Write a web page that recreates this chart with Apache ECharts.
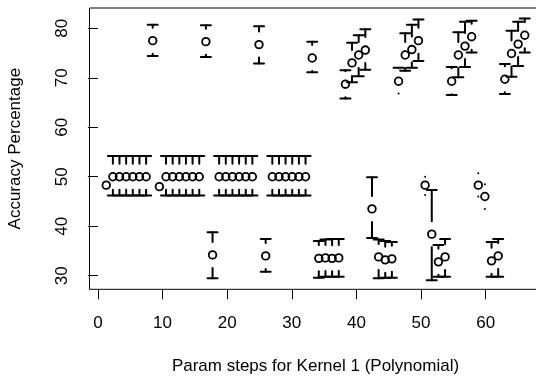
<!DOCTYPE html>
<html>
<head>
<meta charset="utf-8">
<script src="https://cdn.jsdelivr.net/npm/echarts@6/dist/echarts.min.js"></script>
<style>
  html, body { margin: 0; padding: 0; background: #fff; }
  #chart { width: 536px; height: 378px; }
</style>
</head>
<body>
<div id="chart"></div>
<script>
// param step positions
var stepX = [
  1.29, 2.32, 3.34, 4.37, 5.40, 6.43, 7.46, 8.48,
  9.51, 10.54, 11.57, 12.60, 13.62, 14.65, 15.68, 16.71,
  17.74, 18.76, 19.79, 20.82, 21.85, 22.88, 23.90, 24.93,
  25.96, 26.99, 28.02, 29.04, 30.07, 31.10, 32.13, 33.16,
  34.18, 35.21, 36.24, 37.27, 38.30, 39.32, 40.35, 41.38,
  42.41, 43.44, 44.46, 45.49, 46.52, 47.55, 48.58, 49.60,
  50.63, 51.66, 52.69, 53.72, 54.74, 55.77, 56.80, 57.83,
  58.86, 59.88, 60.91, 61.94, 62.97, 64.00, 65.02, 66.05
];
// mean accuracy
var accMean = [
  48.3, 50.0, 50.0, 50.0, 50.0, 50.0, 50.0, 77.5,
  48.0, 50.0, 50.0, 50.0, 50.0, 50.0, 50.0, 77.3,
  34.2, 50.0, 50.0, 50.0, 50.0, 50.0, 50.0, 76.7,
  34.0, 50.0, 50.0, 50.0, 50.0, 50.0, 50.0, 74.0,
  33.5, 33.6, 33.5, 33.6, 68.7, 73.0, 74.6, 75.6,
  43.5, 33.8, 33.2, 33.4, 69.3, 74.6, 75.7, 77.5,
  48.3, 38.4, 32.8, 33.8, 69.3, 74.6, 76.4, 78.3,
  48.3, 46.0, 33.0, 34.0, 69.7, 74.9, 76.8, 78.6
];
// upper limit of the interval
var accUpper = [
  48.3, 54.2, 54.2, 54.2, 54.2, 54.2, 54.2, 80.7,
  48.0, 54.2, 54.2, 54.2, 54.2, 54.2, 54.2, 80.6,
  38.8, 54.2, 54.2, 54.2, 54.2, 54.2, 54.2, 80.4,
  37.4, 54.2, 54.2, 54.2, 54.2, 54.2, 54.2, 77.3,
  37.0, 37.3, 37.4, 37.4, 71.5, 77.1, 78.6, 79.8,
  49.9, 37.3, 37.0, 36.8, 72.0, 79.0, 80.7, 81.8,
  50.0, 47.3, 36.2, 37.4, 72.2, 79.2, 81.3, 81.5,
  50.7, 48.5, 36.8, 37.4, 72.8, 79.5, 81.3, 82.0
];
// lower limit of the interval
var accLower = [
  48.3, 46.2, 46.2, 46.2, 46.2, 46.2, 46.2, 74.4,
  48.0, 46.2, 46.2, 46.2, 46.2, 46.2, 46.2, 74.2,
  29.5, 46.2, 46.2, 46.2, 46.2, 46.2, 46.2, 72.9,
  30.8, 46.2, 46.2, 46.2, 46.2, 46.2, 46.2, 71.1,
  29.6, 29.8, 29.8, 29.8, 65.8, 69.1, 70.3, 71.6,
  37.6, 29.5, 29.6, 29.6, 66.8, 71.4, 72.0, 73.4,
  46.3, 29.1, 29.8, 29.8, 66.5, 70.1, 72.2, 75.1,
  46.0, 43.5, 29.8, 29.8, 66.7, 70.2, 72.4, 75.1
];
var xTicks = [0, 10, 20, 30, 40, 50, 60];
var yTicks = [30, 40, 50, 60, 70, 80];

var rows = stepX.map(function (x, i) {
  return [x, accMean[i], accUpper[i], accLower[i]];
});

var GAP = 13;   // blank space around each point (px)
var CAP = 5;    // half width of the bar heads
var LW = 2;

function renderCI(params, api) {
  var x = api.value(0);
  var pm = api.coord([x, api.value(1)]);
  var pu = api.coord([x, api.value(2)]);
  var pl = api.coord([x, api.value(3)]);
  var cx = pm[0];
  var ls = { stroke: '#000', lineWidth: LW, lineCap: 'round' };
  var kids = [];

  // upper part
  var du = pm[1] - pu[1];
  if (du > GAP) {
    kids.push({ type: 'line', shape: { x1: cx, y1: pm[1] - GAP, x2: cx, y2: pu[1] }, style: ls });
    kids.push({ type: 'line', shape: { x1: cx - CAP, y1: pu[1], x2: cx + CAP, y2: pu[1] }, style: ls });
  } else if (du > 0.5) {
    kids.push({ type: 'circle', shape: { cx: cx, cy: pu[1], r: 1 }, style: { fill: '#000' } });
  }
  // lower part
  var dl = pl[1] - pm[1];
  if (dl > GAP) {
    kids.push({ type: 'line', shape: { x1: cx, y1: pm[1] + GAP, x2: cx, y2: pl[1] }, style: ls });
    kids.push({ type: 'line', shape: { x1: cx - CAP, y1: pl[1], x2: cx + CAP, y2: pl[1] }, style: ls });
  } else if (dl > 0.5) {
    kids.push({ type: 'circle', shape: { cx: cx, cy: pl[1], r: 1 }, style: { fill: '#000' } });
  }
  // open circle
  kids.push({ type: 'circle', shape: { cx: cx, cy: pm[1], r: 3.8 }, style: { fill: 'none', stroke: '#000', lineWidth: 1.8 } });

  return { type: 'group', children: kids };
}

var font = 'Liberation Sans, Arial, Helvetica, sans-serif';

var chart = echarts.init(document.getElementById('chart'), null, { renderer: 'canvas' });
chart.setOption({
  animation: false,
  backgroundColor: '#fff',
  grid: {
    left: 89.5,
    top: 8,
    width: 452,
    height: 281.3,
    containLabel: false,
    outerBoundsMode: 'none',
    show: true,
    borderColor: '#000',
    borderWidth: 1,
    backgroundColor: 'transparent'
  },
  xAxis: {
    type: 'value',
    min: -1.3,
    max: 68.64,
    name: 'Param steps for Kernel 1 (Polynomial)',
    nameLocation: 'middle',
    nameGap: 69,
    nameTextStyle: { fontFamily: font, fontSize: 17, color: '#000' },
    axisLine: { show: false },
    axisTick: { show: true, inside: false, length: 10, customValues: xTicks, lineStyle: { color: '#000', width: 1 } },
    axisLabel: { show: true, customValues: xTicks, margin: 26, fontFamily: font, fontSize: 17, color: '#000' },
    splitLine: { show: false }
  },
  yAxis: {
    type: 'value',
    min: 27.25,
    max: 84.1,
    name: 'Accuracy Percentage',
    nameLocation: 'middle',
    nameGap: 66,
    nameTextStyle: { fontFamily: font, fontSize: 17, color: '#000' },
    axisLine: { show: false },
    axisTick: { show: true, inside: false, length: 10, customValues: yTicks, lineStyle: { color: '#000', width: 1 } },
    axisLabel: { show: true, customValues: yTicks, rotate: 90, margin: 19, fontFamily: font, fontSize: 17, color: '#000' },
    splitLine: { show: false }
  },
  series: [{
    type: 'custom',
    renderItem: renderCI,
    encode: { x: 0, y: 1 },
    data: rows,
    clip: false,
    silent: true
  }]
});
</script>
</body>
</html>
